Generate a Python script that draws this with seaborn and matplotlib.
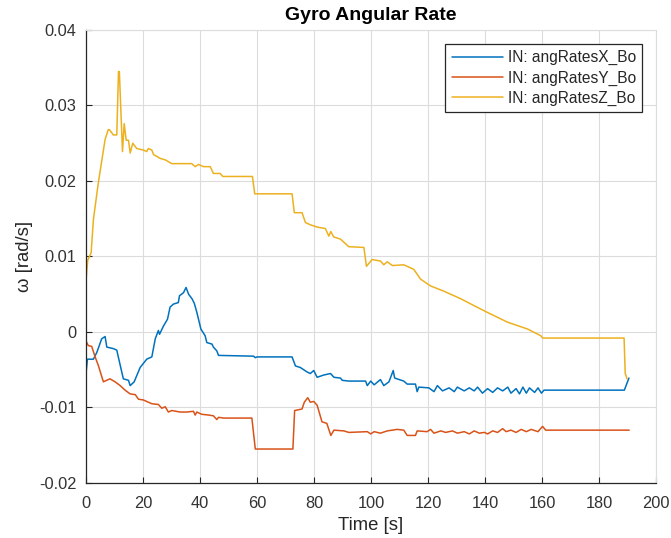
import numpy as np
import pandas as pd
import matplotlib
matplotlib.use("Agg")
import matplotlib.pyplot as plt
import seaborn as sns

# ---- data ----
series_names = ["IN: angRatesX_Bo", "IN: angRatesY_Bo", "IN: angRatesZ_Bo"]
series_colors = ["#0072BD", "#D95319", "#EDB120"]

tX = [0, 0.5, 2.6, 3.8, 5.5, 6.7, 7.3, 9.6, 10.8, 12, 13.1, 14.9, 15.5, 16.9, 19, 21.3, 23.1, 24.3, 25.4, 25.8,
      27.2, 28.6, 29.5, 30.7, 32.4, 32.8, 34.2, 35.1, 36, 37.2, 38, 38.9, 40.3, 41.8, 42.4, 44.2, 44.7, 45.9, 46.5,
      58.8, 59.4, 60, 72.3, 73.5, 75.2, 77.6, 78.7, 79.9, 81.1, 83.4, 85.8, 87, 89.3, 89.9, 92.2, 98.1, 98.7, 99.9,
      101.1, 103.3, 104.5, 106.3, 107.8, 108.3, 111.5, 112.7, 115.6, 116.2, 116.8, 120.3, 122.1, 123.3, 125.1,
      127.4, 129.2, 130.3, 132.7, 134.5, 136.2, 137.4, 139.1, 140.9, 142.7, 144.4, 146.2, 148, 149.1, 150.9,
      152.1, 153.3, 154.5, 155.6, 157.4, 158.6, 159.8, 160.7, 188.9, 190, 190.5]
vX = [-0.0055, -0.0036, -0.0036, -0.0027, -0.0009, -0.0006, -0.0020, -0.0022, -0.0024, -0.0044, -0.0062, -0.0064,
      -0.0071, -0.0066, -0.0047, -0.0036, -0.0033, -0.0009, 0.0002, -0.0003, 0.0008, 0.0017, 0.0033, 0.0037,
      0.0039, 0.0048, 0.0052, 0.0059, 0.0050, 0.0044, 0.0038, 0.0026, 0.0004, -0.0005, -0.0014, -0.0016, -0.0020,
      -0.0025, -0.0031, -0.0032, -0.0034, -0.0033, -0.0033, -0.0045, -0.0047, -0.0053, -0.0055, -0.0051, -0.0060,
      -0.0057, -0.0055, -0.0060, -0.0061, -0.0064, -0.0065, -0.0065, -0.0071, -0.0065, -0.0070, -0.0063, -0.0071,
      -0.0066, -0.0051, -0.0061, -0.0065, -0.0069, -0.0069, -0.0079, -0.0073, -0.0074, -0.0079, -0.0071, -0.0078,
      -0.0074, -0.0079, -0.0073, -0.0078, -0.0074, -0.0078, -0.0073, -0.0081, -0.0075, -0.0080, -0.0074, -0.0078,
      -0.0073, -0.0081, -0.0075, -0.0082, -0.0073, -0.0081, -0.0074, -0.0080, -0.0074, -0.0081, -0.0077, -0.0077,
      -0.0066, -0.0061]

tY = [0, 0.8, 2, 3.2, 4.3, 6.1, 8.4, 10.2, 12, 13.7, 15.5, 17.3, 18.4, 20.1, 21.3, 23.1, 25.4, 26.6, 27.8, 28.9,
      30.1, 33, 35.4, 37.7, 38.3, 38.9, 40.6, 43, 44.7, 45.9, 46.5, 48.3, 58.2, 59.4, 72.6, 73.2, 75.8, 76.6, 77.8,
      78.7, 79.9, 81.1, 82.8, 84.5, 85.9, 87, 90.5, 92.2, 98.7, 99.9, 101.1, 103.3, 105.7, 109.2, 111.5, 112.7,
      115.6, 116.2, 119.7, 120.9, 122.1, 124.5, 126.2, 128.6, 130.3, 132.7, 134.5, 136.2, 138, 139.8, 140.9,
      142.7, 144.4, 146.2, 147.4, 149.1, 150.9, 152.7, 154.5, 156.2, 158.6, 160.2, 161.3, 190.6]
vY = [-0.0012, -0.0018, -0.0019, -0.0033, -0.0044, -0.0066, -0.0062, -0.0066, -0.0071, -0.0077, -0.0082, -0.0083,
      -0.0089, -0.0090, -0.0092, -0.0095, -0.0096, -0.0101, -0.0099, -0.0106, -0.0104, -0.0106, -0.0106, -0.0105,
      -0.0110, -0.0106, -0.0109, -0.0110, -0.0111, -0.0116, -0.0113, -0.0114, -0.0114, -0.0155, -0.0155, -0.0104,
      -0.0102, -0.0093, -0.0087, -0.0093, -0.0092, -0.0097, -0.0119, -0.0121, -0.0137, -0.0130, -0.0131, -0.0133,
      -0.0132, -0.0135, -0.0132, -0.0134, -0.0131, -0.0129, -0.0130, -0.0137, -0.0137, -0.0131, -0.0132, -0.0129,
      -0.0134, -0.0131, -0.0133, -0.0131, -0.0134, -0.0132, -0.0135, -0.0131, -0.0134, -0.0133, -0.0135, -0.0131,
      -0.0133, -0.0128, -0.0132, -0.0130, -0.0133, -0.0129, -0.0132, -0.0129, -0.0132, -0.0125, -0.0130, -0.0130]

tZ = [0, 0.6, 1.8, 2.6, 4.3, 6.7, 7.8, 8.2, 9.6, 10.8, 11.4, 11.7, 12.8, 13.4, 14.1, 14.9, 15.5, 16.4, 17.8, 20.1,
      21.3, 21.9, 23.1, 23.7, 26, 27.8, 30.1, 33, 37.1, 38.3, 39.5, 41.2, 43.6, 44.7, 47.1, 48, 58.4, 59.2, 72.3,
      73.1, 75.8, 77, 78.7, 81.1, 84, 85.2, 85.9, 86.9, 89.3, 92.2, 97.5, 98.4, 100.4, 103.3, 104.5, 105.7, 107.5,
      111.5, 115, 117.4, 120.9, 125.6, 131.5, 136.1, 140.8, 147.9, 154.9, 159.6, 160.2, 188.8, 189.2, 189.5, 189.8]
vZ = [0.0068, 0.0095, 0.0105, 0.0149, 0.0197, 0.0255, 0.0268, 0.0268, 0.0261, 0.0261, 0.0345, 0.0345, 0.0239,
      0.0276, 0.0254, 0.0254, 0.0237, 0.0250, 0.0243, 0.0241, 0.0239, 0.0243, 0.0241, 0.0235, 0.0230, 0.0228,
      0.0223, 0.0223, 0.0223, 0.0219, 0.0222, 0.0219, 0.0219, 0.0210, 0.0210, 0.0206, 0.0206, 0.0183, 0.0183,
      0.0158, 0.0158, 0.0145, 0.0142, 0.0139, 0.0137, 0.0127, 0.0133, 0.0126, 0.0123, 0.0113, 0.0112, 0.0087,
      0.0096, 0.0094, 0.0089, 0.0093, 0.0088, 0.0089, 0.0083, 0.0070, 0.0061, 0.0054, 0.0044, 0.0035, 0.0026,
      0.0013, 0.0004, -0.0005, -0.0008, -0.0008, -0.0055, -0.0058, -0.0062]

x_ticks = [0, 20, 40, 60, 80, 100, 120, 140, 160, 180, 200]
y_ticks = [-0.02, -0.01, 0, 0.01, 0.02, 0.03, 0.04]
y_tick_labels = ["-0.02", "-0.01", "0", "0.01", "0.02", "0.03", "0.04"]

assert len(tX) == len(vX) and len(tY) == len(vY) and len(tZ) == len(vZ)

frames = []
for name, t, v in zip(series_names, [tX, tY, tZ], [vX, vY, vZ]):
    frames.append(pd.DataFrame({"t": t, "v": v, "series": name}))
df = pd.concat(frames, ignore_index=True)

# ---- style ----
sns.set_theme(style="white")
plt.rcParams["font.family"] = ["Liberation Sans", "DejaVu Sans"]
plt.rcParams["axes.unicode_minus"] = False

fig = plt.figure(figsize=(6.71, 5.38), dpi=100)
ax = fig.add_axes([86 / 671, 1 - 483 / 538, (656 - 86) / 671, (483 - 30) / 538])

sns.lineplot(data=df, x="t", y="v", hue="series", palette=dict(zip(series_names, series_colors)),
             estimator=None, sort=False, units="series", lw=1.1, ax=ax, legend=True)

ax.set_xlim(0, 200)
ax.set_ylim(-0.02, 0.04)
ax.set_xticks(x_ticks)
ax.set_xticklabels([str(x) for x in x_ticks])
ax.set_yticks(y_ticks)
ax.set_yticklabels(y_tick_labels)

ax.grid(True, color="#DCDCDC", lw=0.8)
ax.set_axisbelow(True)
for side in ["top", "right"]:
    ax.spines[side].set_color("#DCDCDC")
    ax.spines[side].set_linewidth(0.8)
for side in ["left", "bottom"]:
    ax.spines[side].set_color("#262626")
    ax.spines[side].set_linewidth(0.9)
ax.tick_params(direction="in", length=4, width=0.8, colors="#262626", labelcolor="#333333",
               labelsize=11.8, pad=7, left=True, bottom=True)
ax.tick_params(axis="x", pad=9)

ax.set_xlabel("Time [s]", fontsize=13.3, color="#262626", labelpad=5)
ax.set_ylabel("ω [rad/s]", fontsize=13.3, color="#262626", labelpad=4)
ax.set_title("Gyro Angular Rate", fontsize=14, fontweight="bold", color="#000000", pad=7)

leg = ax.legend(loc="upper right", bbox_to_anchor=(0.9755, 0.969), fontsize=11.2, frameon=True,
                fancybox=False, edgecolor="#262626", handlelength=3.3, handletextpad=0.3,
                borderpad=0.4, labelspacing=0.32, borderaxespad=0)
leg.get_frame().set_linewidth(0.9)
leg.get_frame().set_alpha(1)
for line in leg.get_lines():
    line.set_linewidth(1.1)

fig.savefig("out.png", dpi=100)
